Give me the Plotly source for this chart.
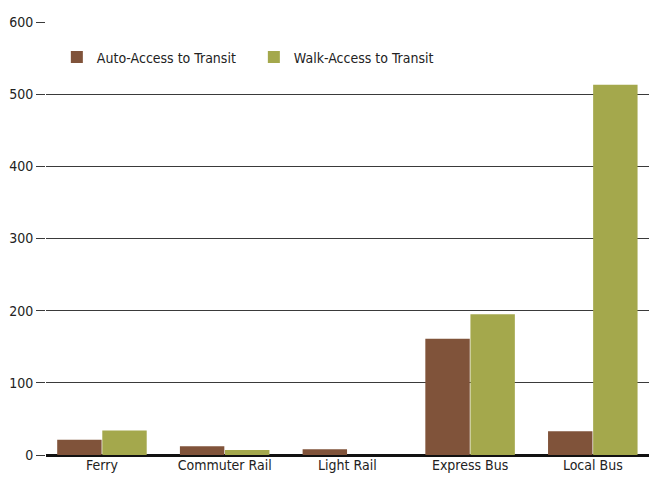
import plotly.graph_objects as go

categories = ["Ferry", "Commuter Rail", "Light Rail", "Express Bus", "Local Bus"]
auto_access = [21, 12, 8, 161, 33]
walk_access = [34, 7, 0, 195, 513]
y_ticks = [0, 100, 200, 300, 400, 500, 600]

FONT = "Liberation Sans Narrow, DejaVu Sans Condensed, Roboto Condensed, Arial Narrow, sans-serif"

fig = go.Figure()
fig.add_trace(go.Bar(
    name="Auto-Access to Transit", x=categories, y=auto_access,
    marker=dict(color="#80533A", line=dict(width=0)),
))
fig.add_trace(go.Bar(
    name="Walk-Access to Transit", x=categories, y=walk_access,
    marker=dict(color="#A4A84C", line=dict(width=0)),
))

fig.update_layout(
    width=649, height=480,
    margin=dict(l=46, r=0, t=22, b=25, autoexpand=False),
    paper_bgcolor="white", plot_bgcolor="white",
    font=dict(family=FONT, size=14, color="#222222"),
    barmode="group", bargap=0.265, bargroupgap=0.015,
    showlegend=True,
    legend=dict(
        orientation="h", x=0.018, y=0.955, xanchor="left", yanchor="top",
        bgcolor="rgba(0,0,0,0)", font=dict(family=FONT, size=14, color="#222222"),
        entrywidth=152, entrywidthmode="pixels", traceorder="normal",
    ),
    xaxis=dict(
        type="category", range=[-0.456, 4.458], showgrid=False,
        showline=False, ticks="", zeroline=False, fixedrange=True,
    ),
    yaxis=dict(
        range=[0, 600], tickvals=y_ticks, showgrid=True, gridcolor="#3a3a3a",
        gridwidth=1, zeroline=True, zerolinecolor="#111111", zerolinewidth=2.5,
        ticks="outside", ticklen=9, tickcolor="#3a3a3a", tickwidth=1,
        showline=False, fixedrange=True,
    ),
)

fig.write_html(
    "out.html",
    config={"displayModeBar": False},
    post_script="document.body.style.margin='0px';document.body.style.overflow='hidden';",
)
